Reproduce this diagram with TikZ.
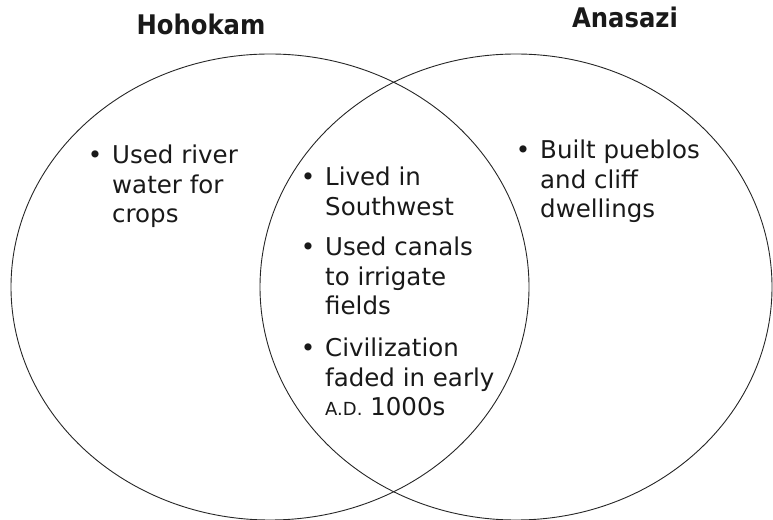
\documentclass[tikz,border=0pt]{standalone}
\usepackage{fontspec}
\setmainfont{DejaVu Sans}
\newfontfamily\headfont{DejaVu Sans Condensed}
\usetikzlibrary{positioning}
\newcommand{\smc}[1]{{\fontsize{18}{20}\selectfont #1}}
\newcommand{\blt}{\llap{•\hspace{10pt}}}
\tikzset{
  venn/.style={draw=black!85,line width=0.9pt},
  grphead/.style={font=\headfont\bfseries\fontsize{27}{32}\selectfont,
    text=black!90,inner sep=0pt,anchor=base},
  fact/.style={font=\fontsize{24.5}{29.5}\selectfont,text=black!90,
    align=left,inner sep=0pt,anchor=base west},
}
\begin{document}
\begin{tikzpicture}[x=1pt,y=1pt]
  \useasboundingbox (0,0) rectangle (773,519);
  \draw[venn] (270,232) ellipse [x radius=259,y radius=233];
  \draw[venn] (516,232) ellipse [x radius=256,y radius=233];
  \node[grphead] (hoh) at (201,484) {Hohokam};
  \node[grphead] (ana) at (625,491) {Anasazi};
  \node[fact] (river) at (112,296) {\blt Used river\\water for\\crops};
  \node[fact] (pueblo) at (540,301) {\blt Built pueblos\\and cliff\\dwellings};
  \node[fact] (lived) at (325,303.5) {\blt Lived in\\Southwest};
  \node[fact] (canal) at (325,204) {\blt Used canals\\to irrigate\\fields};
  \node[fact] (faded) at (325,103) {\blt Civilization\\faded in early\\\smc{A.D.} 1000s};
\end{tikzpicture}
\end{document}
